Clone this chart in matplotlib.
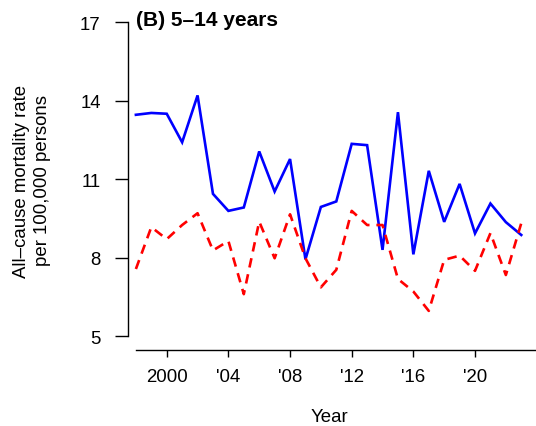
import matplotlib
matplotlib.use("Agg")
import matplotlib.pyplot as plt

years = list(range(1998, 2024))
blue_vals = [13.46, 13.53, 13.50, 12.41, 14.20, 10.44, 9.79, 9.92, 12.06, 10.53,
             11.77, 7.94, 9.94, 10.15, 12.35, 12.30, 8.30, 13.56, 8.13, 11.32,
             9.37, 10.82, 8.93, 10.07, 9.36, 8.87]
red_vals = [7.57, 9.17, 8.71, 9.25, 9.70, 8.28, 8.64, 6.61, 9.38, 7.98,
            9.66, 7.98, 6.87, 7.54, 9.79, 9.25, 9.25, 7.19, 6.71, 5.97,
            7.92, 8.08, 7.50, 8.94, 7.34, 9.32]
yticks = [5, 8, 11, 14, 17]
xticks = [2000, 2004, 2008, 2012, 2016, 2020]
xticklabels = ["2000", "'04", "'08", "'12", "'16", "'20"]

plt.rcParams['font.family'] = ['Liberation Sans', 'DejaVu Sans']

W, H = 536, 427
fig = plt.figure(figsize=(W / 100, H / 100), dpi=100)
left_px, right_px, top_px, bot_px = 128.3, 536, 23.1, 350.7
ax = fig.add_axes([left_px / W, 1 - bot_px / H, (right_px - left_px) / W, (bot_px - top_px) / H])

ax.plot(years, blue_vals, color='#0000FF', lw=1.9, solid_joinstyle='miter')
ax.plot(years, red_vals, color='#FF0000', lw=1.9, dashes=(3.6, 2.6))

ax.set_xlim(1997.507, 2023.956)
ax.set_ylim(4.488, 17)

for s in ['top', 'right']:
    ax.spines[s].set_visible(False)
ax.spines['left'].set_bounds(5, 17)
ax.spines['bottom'].set_bounds(1998, 2024)
for s in ['left', 'bottom']:
    ax.spines[s].set_linewidth(1.0)

ax.set_yticks(yticks)
ax.set_yticklabels([str(v) for v in yticks])
ax.set_xticks(xticks)
ax.set_xticklabels(xticklabels)
ax.tick_params(axis='y', direction='out', length=9.4, width=1.0, pad=10.5, labelsize=13.4)
ax.tick_params(axis='x', direction='out', length=5.2, width=1.0, pad=8.0, labelsize=13.4)

fig.text(329 / W, 1 - 418 / H, "Year", ha='center', va='center', fontsize=13.4)
fig.text(32 / W, 1 - 181 / H, "All\u2013cause mortality rate\nper 100,000 persons",
         ha='center', va='center', rotation=90, fontsize=13.4, multialignment='center',
         linespacing=1.38)
fig.text(136 / W, 1 - 20 / H, "(B) 5\u201314 years", ha='left', va='center',
         fontsize=15, fontweight='bold')

fig.savefig("out.png", dpi=100)
